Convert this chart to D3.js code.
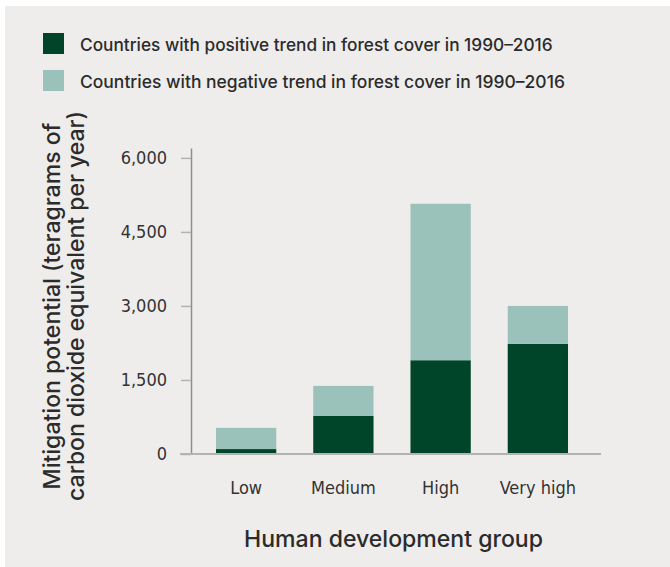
<!DOCTYPE html>
<html><head><meta charset="utf-8">
<script src="https://cdn.jsdelivr.net/npm/d3@7"></script>
<style>
html,body{margin:0;padding:0;background:#fff;}
svg{display:block;}
</style></head>
<body>
<svg id="chart" width="670" height="567"></svg>
<script>
const categories = ["Low", "Medium", "High", "Very high"];
const positiveTrend = [100, 770, 1900, 2230];
const negativeTrend = [430, 610, 3170, 770];
const yTickValues = [0, 1500, 3000, 4500, 6000];
const seriesLabels = [
  "Countries with positive trend in forest cover in 1990\u20132016",
  "Countries with negative trend in forest cover in 1990\u20132016"
];
const yTitleLines = ["Mitigation potential (teragrams of", "carbon dioxide equivalent per year)"];
const xTitle = "Human development group";

const colors = ["#00452a", "#9bc2ba"];
const sansFont = "Inter, 'Noto Sans', sans-serif";
const condFont = "'Liberation Sans Narrow', 'DejaVu Sans Condensed', 'Roboto', sans-serif";
const textColor = "#2b2b2b";

const svg = d3.select("#chart");
svg.append("rect").attr("x", 5).attr("y", 6).attr("width", 665).attr("height", 561).attr("fill", "#eeedeb");

function fit(sel, target) {
  const w = sel.node().getComputedTextLength();
  const fs = parseFloat(sel.attr("font-size"));
  sel.attr("font-size", fs * target / w);
}

const data = categories.map((c, i) => ({cat: c, positive: positiveTrend[i], negative: negativeTrend[i]}));
const stack = d3.stack().keys(["positive", "negative"]);
const layers = stack(data);

const x = d3.scaleBand().domain(categories).range([191, 593]).paddingInner(0.38).paddingOuter(0.257);
const y = d3.scaleLinear().domain([0, 6200]).range([454, 148]);

// bars
svg.append("g").selectAll("g").data(layers).join("g")
  .attr("fill", (d, i) => colors[i])
  .selectAll("rect").data(d => d).join("rect")
  .attr("x", d => x(d.data.cat))
  .attr("width", x.bandwidth())
  .attr("y", d => y(d[1]))
  .attr("height", d => y(d[0]) - y(d[1]));

// y axis
const yAxis = svg.append("g").attr("transform", "translate(191,0)")
  .call(d3.axisLeft(y).tickValues(yTickValues).tickSize(10).tickSizeOuter(0).tickPadding(14).tickFormat(d3.format(",")));
yAxis.select(".domain").attr("stroke", "#8e8e8e").attr("stroke-width", 1.5);
yAxis.selectAll(".tick line").attr("stroke", "#b3b3b3").attr("stroke-width", 1.5);
yAxis.selectAll(".tick text").attr("font-family", condFont).attr("font-size", 18).attr("fill", "#333");

// baseline
svg.append("line").attr("x1", 180).attr("x2", 601).attr("y1", y(0)).attr("y2", y(0))
  .attr("stroke", "#b3b3b3").attr("stroke-width", 2);

// x axis labels
const xAxis = svg.append("g").attr("transform", `translate(0,${y(0)})`)
  .call(d3.axisBottom(x).tickSize(0).tickPadding(27));
xAxis.select(".domain").remove();
xAxis.selectAll(".tick text").attr("font-family", condFont).attr("font-size", 18).attr("fill", "#333");

// x title
const xt = svg.append("text").attr("x", 393.5).attr("y", 547).attr("text-anchor", "middle")
  .attr("font-family", sansFont).attr("font-size", 21).attr("font-weight", 500).attr("fill", textColor).text(xTitle);
fit(xt, 299);

// y title
const yt = svg.append("g").attr("transform", "translate(0,306) rotate(-90)");
const ytLines = [{t: yTitleLines[0], base: 60, w: 367}, {t: yTitleLines[1], base: 84, w: 390}];
ytLines.forEach(l => {
  const t = yt.append("text").attr("x", 0).attr("y", l.base).attr("text-anchor", "middle")
    .attr("font-family", sansFont).attr("font-size", 20).attr("font-weight", 500).attr("fill", textColor).text(l.t);
  fit(t, l.w);
});

// legend
const legendY = [33, 70];
const legendW = [473, 485];
seriesLabels.forEach((s, i) => {
  svg.append("rect").attr("x", 43).attr("y", legendY[i]).attr("width", 21).attr("height", 21).attr("fill", colors[i]);
  const t = svg.append("text").attr("x", 80).attr("y", legendY[i] + 18).attr("font-family", sansFont)
    .attr("font-size", 16).attr("font-weight", 500).attr("fill", textColor).text(s);
  fit(t, legendW[i]);
});
</script>
</body></html>
